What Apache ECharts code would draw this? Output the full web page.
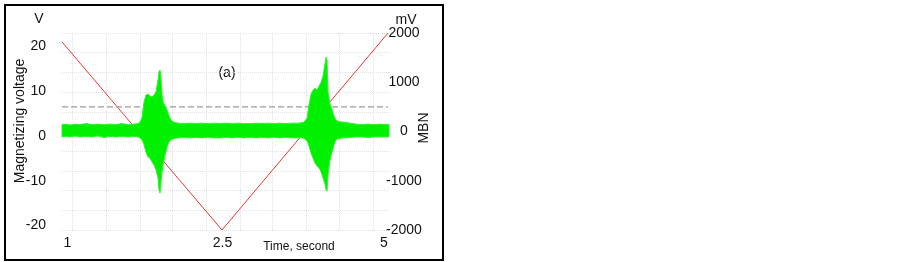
<!DOCTYPE html>
<html>
<head>
<meta charset="utf-8">
<script src="https://cdn.jsdelivr.net/npm/echarts@6/dist/echarts.min.js"></script>
<style>
html,body{margin:0;padding:0;background:#fff;}
#chart{width:902px;height:262px;}
</style>
</head>
<body>
<div id="chart"></div>
<script>
// ---- Data ----
// Time (s) of MBN envelope samples
var mbnTime = [1.000,1.049,1.098,1.159,1.220,1.293,1.366,1.439,1.512,1.585,1.659,1.732,1.805,1.878,1.927,
  1.951,1.976,2.000,2.024,2.049,2.073,2.098,2.122,2.146,2.171,2.183,2.195,2.207,2.220,2.232,2.256,2.280,2.305,2.329,2.366,2.415,
  2.488,2.561,2.634,2.707,2.780,2.854,2.927,3.000,3.073,3.146,3.220,3.293,3.366,3.439,3.512,3.585,3.659,3.732,3.805,3.878,3.927,
  3.951,3.988,4.012,4.037,4.061,4.085,4.110,4.134,4.159,4.183,4.207,4.220,4.232,4.244,4.268,4.293,4.317,4.341,4.378,4.439,
  4.512,4.585,4.659,4.732,4.805,4.878,4.951,4.988];
// Upper envelope of the MBN signal (mV)
var mbnUpper = [140,150,130,150,140,160,140,150,140,150,140,160,140,150,160,
  190,290,600,740,760,720,700,740,800,1050,1210,1250,1090,740,600,520,440,320,230,190,170,
  160,170,160,170,160,170,160,170,160,170,160,160,170,160,170,160,170,160,170,170,180,
  190,270,540,760,840,880,840,920,1000,1130,1370,1510,1450,800,560,440,320,230,200,190,
  170,150,140,150,140,150,140,140];
// Lower envelope of the MBN signal (mV)
var mbnLower = [-110,-100,-110,-90,-110,-100,-110,-90,-120,-100,-110,-100,-110,-100,-110,
  -130,-170,-270,-420,-520,-540,-620,-680,-780,-940,-1190,-1250,-1020,-820,-680,-480,-320,-210,-170,-140,-130,
  -120,-130,-120,-130,-120,-130,-130,-120,-130,-120,-130,-120,-130,-120,-130,-120,-130,-120,-130,-130,-130,
  -140,-190,-290,-440,-540,-640,-700,-740,-820,-940,-1070,-1190,-1210,-880,-580,-420,-270,-170,-140,-130,
  -120,-110,-110,-120,-110,-110,-110,-110];
// Magnetizing voltage (V), triangular wave vertices
var voltTime = [1.000, 2.951, 4.976];
var voltValue = [21, -21, 23];
// Dashed threshold level (mV)
var thresholdTime = [1.000, 4.976];
var thresholdValue = [500, 500];
// Vertical grid positions (s)
var gridTimes = [1.128,1.537,1.945,2.354,2.756,3.165,3.570,3.976,4.378,4.789];
// Tick labels
var xTickLabels = ['1', '2.5', '5'];
var xTickAt = [1.067, 2.957, 4.927];
var leftTicks = [-20, -10, 0, 10, 20];
var rightTicks = [-2000, -1000, 0, 1000, 2000];

// ---- Build options ----
var FONT = 'Liberation Sans, Arial, sans-serif';
var mbnData = mbnTime.map(function (t, i) { return [t, mbnUpper[i], mbnLower[i]]; });
var voltData = voltTime.map(function (t, i) { return [t, voltValue[i]]; });
var thrData = thresholdTime.map(function (t, i) { return [t, thresholdValue[i]]; });

function renderBand(params, api) {
  if (params.dataIndex !== 0) return null;
  var pts = [];
  for (var i = 0; i < mbnData.length; i++) pts.push(api.coord([mbnData[i][0], mbnData[i][1]]));
  for (var j = mbnData.length - 1; j >= 0; j--) pts.push(api.coord([mbnData[j][0], mbnData[j][2]]));
  return {
    type: 'polygon',
    shape: { points: pts },
    style: { fill: '#00f000', stroke: '#2ef52e', lineWidth: 1 }
  };
}

var chart = echarts.init(document.getElementById('chart'), null, { renderer: 'canvas' });
chart.setOption({
  animation: false,
  backgroundColor: '#ffffff',
  grid: { left: 62, right: 512, top: 33, bottom: 32, containLabel: false },
  xAxis: {
    type: 'value', min: 1, max: 5,
    axisLine: { show: false }, axisTick: { show: false }, splitLine: { show: false },
    axisLabel: {
      customValues: xTickAt,
      margin: 6, fontSize: 14, color: '#111', fontFamily: FONT,
      formatter: function (v) {
        var best = 0, d = Infinity;
        for (var i = 0; i < xTickAt.length; i++) { var dd = Math.abs(xTickAt[i] - v); if (dd < d) { d = dd; best = i; } }
        return xTickLabels[best];
      }
    }
  },
  yAxis: [
    {
      type: 'value', position: 'left', min: -21, max: 23,
      axisLine: { show: false }, axisTick: { show: false }, splitLine: { show: false },
      axisLabel: { customValues: leftTicks, margin: 16, fontSize: 14, color: '#111', fontFamily: FONT,
        formatter: function (v) { return String(v); } }
    },
    {
      type: 'value', position: 'right', min: -2000, max: 2000, interval: 400,
      axisLine: { show: false }, axisTick: { show: false },
      splitLine: { show: true, lineStyle: { color: '#e2e2e2', type: 'dotted', width: 1 } },
      axisLabel: { customValues: rightTicks, align: 'center', margin: 14, fontSize: 14, color: '#111', fontFamily: FONT,
        formatter: function (v) { return String(v); } }
    }
  ],
  series: [
    {
      name: 'Magnetizing voltage', type: 'line', xAxisIndex: 0, yAxisIndex: 0,
      data: voltData, symbol: 'none', z: 2,
      lineStyle: { color: '#e8392f', width: 1 },
      markLine: {
        silent: true, symbol: 'none', z: 1,
        label: { show: false },
        lineStyle: { color: '#e2e2e2', type: 'dotted', width: 1 },
        data: gridTimes.map(function (t) { return { xAxis: t }; })
      }
    },
    {
      name: 'Threshold', type: 'line', xAxisIndex: 0, yAxisIndex: 1,
      data: thrData, symbol: 'none', z: 3,
      lineStyle: { color: '#9a9a9a', width: 1.3, type: [6, 3] }
    },
    {
      name: 'MBN', type: 'custom', xAxisIndex: 0, yAxisIndex: 1,
      data: mbnData, z: 5,
      encode: { x: 0, y: [1, 2] },
      renderItem: renderBand
    }
  ],
  graphic: [
    { type: 'rect', shape: { x: 5, y: 5, width: 438, height: 255 }, style: { fill: null, stroke: '#000', lineWidth: 2 }, z: 10 },
    { type: 'text', x: 39, y: 19, style: { text: 'V', font: '14px ' + FONT, fill: '#111', textAlign: 'center', textVerticalAlign: 'middle' } },
    { type: 'text', x: 406, y: 20, style: { text: 'mV', font: '14px ' + FONT, fill: '#111', textAlign: 'center', textVerticalAlign: 'middle' } },
    { type: 'text', x: 227, y: 73, style: { text: '(a)', font: '14px ' + FONT, fill: '#111', textAlign: 'center', textVerticalAlign: 'middle' } },
    { type: 'text', x: 20, y: 121, rotation: Math.PI / 2, style: { text: 'Magnetizing voltage', font: '14px ' + FONT, fill: '#111', textAlign: 'center', textVerticalAlign: 'middle' } },
    { type: 'text', x: 424, y: 128, rotation: Math.PI / 2, style: { text: 'MBN', font: '14px ' + FONT, fill: '#111', textAlign: 'center', textVerticalAlign: 'middle' } },
    { type: 'text', x: 299, y: 247, style: { text: 'Time, second', font: '12px ' + FONT, fill: '#111', textAlign: 'center', textVerticalAlign: 'middle' } }
  ]
});
</script>
</body>
</html>
